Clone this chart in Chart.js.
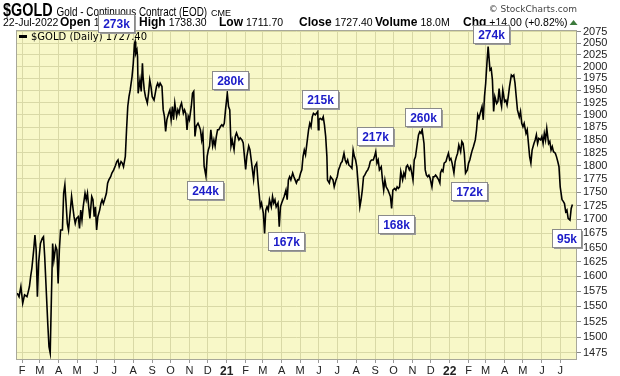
<!DOCTYPE html>
<html>
<head>
<meta charset="utf-8">
<script src="https://cdn.jsdelivr.net/npm/chart.js@4.4.0/dist/chart.umd.min.js"></script>
<style>
  html, body { margin: 0; padding: 0; background: #fff; }
  #goldChart { display: block; }
</style>
</head>
<body>
<canvas id="goldChart" width="620" height="376"></canvas>
<script>
// $GOLD daily closes, x = days counted from 1 Jan 2020
const days = [
  23, 26, 29, 32, 35, 39, 41, 43, 45, 47, 50, 52, 54, 56, 58, 61, 64, 66, 68, 70,
  73, 75, 77, 79, 81, 83, 86, 88, 90, 92, 94, 97, 99, 101, 103, 105, 107, 110, 112, 114,
  116, 118, 120, 123, 125, 127, 129, 131, 134, 136, 138, 140, 142, 145, 147, 149, 151, 153, 155, 158,
  160, 162, 164, 166, 169, 171, 173, 176, 178, 181, 184, 186, 188, 190, 193, 195, 197,
  200, 202, 204, 206, 208, 211, 213, 215, 216, 217, 219, 220, 221, 224, 226, 228, 229, 231, 233, 236,
  238, 240, 242, 244, 247, 249, 251, 253, 255, 257, 260, 262, 264, 266, 268, 271, 273, 275, 277, 279,
  281, 284, 286, 288, 290, 292, 295, 297, 299, 301, 303, 305, 308, 310, 312, 314, 316, 319, 321, 323,
  325, 327, 329, 332, 334, 336, 338, 340, 343, 345, 347, 349, 351, 353, 356, 358, 360, 362, 364, 367,
  369, 371, 373, 375, 378, 380, 382, 384, 386, 388, 391, 393, 395, 397, 399, 402, 404, 406, 408, 410,
  412, 415, 417, 419, 421, 423, 426, 428, 430, 432, 434, 436, 439, 441, 443, 445, 447, 450, 452, 454,
  456, 458, 460, 463, 465, 467, 469, 471, 474, 476, 478, 480, 482, 484, 487, 489, 491, 493, 495, 498,
  500, 502, 504, 506, 508, 511, 513, 515, 516, 517, 519, 522, 524, 526, 528, 530, 531, 534, 536, 538,
  540, 542, 545, 547, 549, 551, 553, 555, 558, 560, 562, 564, 566, 569, 571, 573, 575, 577, 579, 582,
  584, 586, 588, 590, 592, 595, 597, 599, 601, 603, 606, 608, 610, 612, 614, 616, 619, 621, 623, 625,
  627, 630, 632, 634, 636, 638, 641, 643, 645, 647, 649, 651, 654, 656, 658, 660, 662, 665, 667, 669,
  671, 673,
  675, 678, 680, 682, 684, 686, 689, 691, 693, 695, 697, 699, 702, 704, 706, 708, 710, 713, 715, 716,
  718, 720, 722, 725, 727, 729, 731, 733, 735, 738, 740, 742, 744, 746, 749, 751, 753, 755, 757, 760,
  762, 764, 766, 768, 770, 773, 775, 777, 779, 781, 784, 786, 788, 790, 792, 794, 797, 799, 801, 803,
  805, 808, 810, 812, 814, 816, 818, 821, 823, 825, 827, 829, 832, 834, 836, 838, 840, 842, 845, 847,
  849, 851, 853, 856, 858, 860, 862, 864, 866, 869, 871, 873, 875, 877, 880, 882, 884, 886, 888, 890,
  893, 895, 897, 899, 901, 904, 906, 908, 910, 912, 915, 917, 919, 921, 923, 925, 928, 930, 932
];
const closes = [
  1572, 1566, 1583, 1555, 1569, 1566, 1574, 1583, 1600, 1614, 1646, 1672, 1646, 1566, 1623, 1657, 1666, 1669, 1634, 1588,
  1522, 1485, 1475, 1566, 1657, 1628, 1652, 1646, 1588, 1646, 1681, 1681, 1748, 1764, 1729, 1693, 1681, 1717, 1742, 1723,
  1705, 1693, 1702, 1705, 1684, 1717, 1699, 1723, 1748, 1736, 1748, 1723, 1702, 1742, 1736, 1705, 1723, 1681, 1705, 1717,
  1729, 1736, 1729, 1736, 1748, 1767, 1773, 1779, 1786, 1792, 1801, 1808, 1811, 1798, 1808, 1805, 1798,
  1818, 1870, 1917, 1937, 1951, 1979, 2007, 2050, 2054, 2028, 2036, 2021, 1944, 1972, 1948, 2007, 1979, 1951, 1937, 1924,
  1944, 1972, 1958, 1937, 1930, 1944, 1958, 1965, 1958, 1965, 1958, 1910, 1897, 1867, 1890, 1903, 1910, 1890, 1917, 1890,
  1924, 1897, 1910, 1903, 1917, 1924, 1903, 1910, 1903, 1870, 1897, 1890, 1917, 1944, 1948, 1857, 1877, 1883, 1877, 1870,
  1850, 1864, 1799, 1780, 1818, 1831, 1838, 1870, 1838, 1850, 1838, 1857, 1870, 1870, 1877, 1880, 1877, 1883, 1910, 1944,
  1917, 1910, 1838, 1850, 1831, 1857, 1864, 1857, 1850, 1854, 1850, 1844, 1818, 1793, 1818, 1838, 1831, 1812, 1793, 1774,
  1798, 1805, 1773, 1748, 1723, 1730, 1711, 1675, 1717, 1723, 1717, 1736, 1723, 1742, 1730, 1736, 1723, 1730, 1687, 1723,
  1730, 1736, 1742, 1754, 1736, 1773, 1779, 1773, 1786, 1779, 1773, 1767, 1773, 1773, 1786, 1792, 1818, 1830, 1821, 1850,
  1870, 1883, 1876, 1896, 1903, 1900, 1903, 1907, 1870, 1890, 1893, 1890, 1896, 1880, 1857, 1818, 1773, 1767, 1779, 1776,
  1773, 1760, 1773, 1779, 1792, 1798, 1805, 1808, 1824, 1811, 1805, 1811, 1801, 1798, 1795, 1830, 1818, 1811, 1798, 1754,
  1723, 1736, 1754, 1779, 1782, 1789, 1792, 1798, 1808, 1811, 1811, 1818, 1827, 1805, 1811, 1792, 1798, 1773, 1754, 1773,
  1760, 1754, 1748, 1742, 1720, 1754, 1757, 1754, 1760, 1757, 1760, 1789, 1773, 1786, 1779, 1798, 1801, 1792, 1798, 1786,
  1773, 1811,
  1817, 1843, 1860, 1866, 1863, 1870, 1843, 1792, 1782, 1779, 1782, 1776, 1760, 1779, 1779, 1782, 1779, 1773, 1767, 1786,
  1792, 1789, 1805, 1808, 1817, 1824, 1811, 1814, 1805, 1786, 1808, 1817, 1824, 1840, 1827, 1847, 1843, 1824, 1786, 1792,
  1805, 1811, 1821, 1830, 1837, 1850, 1870, 1900, 1893, 1903, 1917, 1890, 1937, 1965, 2007, 2043, 1993, 1996, 1972, 1907,
  1937, 1923, 1927, 1954, 1930, 1917, 1951, 1927, 1930, 1920, 1937, 1958, 1982, 1979, 1982, 1965, 1937, 1910, 1896, 1907,
  1883, 1876, 1883, 1863, 1870, 1843, 1817, 1805, 1830, 1843, 1850, 1860, 1843, 1853, 1850, 1857, 1843, 1863, 1850, 1873,
  1843, 1847, 1830, 1837, 1827, 1824, 1817, 1808, 1798, 1760, 1736, 1733, 1729, 1714, 1717, 1702, 1699, 1720, 1727.4
];

// month gridlines and their labels
const tickDates = [
  '2020-02-01', '2020-03-01', '2020-04-01', '2020-05-01', '2020-06-01', '2020-07-01', '2020-08-01',
  '2020-09-01', '2020-10-01', '2020-11-01', '2020-12-01', '2021-01-01', '2021-02-01', '2021-03-01',
  '2021-04-01', '2021-05-01', '2021-06-01', '2021-07-01', '2021-08-01', '2021-09-01', '2021-10-01',
  '2021-11-01', '2021-12-01', '2022-01-01', '2022-02-01', '2022-03-01', '2022-04-01', '2022-05-01',
  '2022-06-01', '2022-07-01'
];
const tickLabels = [
  'F', 'M', 'A', 'M', 'J', 'J', 'A', 'S', 'O', 'N', 'D', '21', 'F', 'M', 'A',
  'M', 'J', 'J', 'A', 'S', 'O', 'N', 'D', '22', 'F', 'M', 'A', 'M', 'J', 'J'
];
const yTicks = [
  1475, 1500, 1525, 1550, 1575, 1600, 1625, 1650, 1675, 1700, 1725, 1750, 1775,
  1800, 1825, 1850, 1875, 1900, 1925, 1950, 1975, 2000, 2025, 2050, 2075
];

// volume call-outs, anchored at (day, price) of the box centre
const volLabels = ['273k', '280k', '244k', '215k', '167k', '217k', '168k', '260k', '172k', '274k', '95k'];
const volDays   = [184, 372, 331, 518, 463, 608, 643, 688, 763, 798, 922];
const volPrices = [2094, 1971, 1755, 1933, 1661, 1858, 1691, 1895, 1753, 2069.5, 1666];

// quote line: [label, value, left x]
const quoteRow = [
  ['', '22-Jul-2022', 3],
  ['Open', '1', 60],
  ['High', '1738.30', 139],
  ['Low', '1711.70', 219],
  ['Close', '1727.40', 299],
  ['Volume', '18.0M', 375],
  ['Chg', '+14.00 (+0.82%)', 463]
];

const plotBg = '#f8f8c8';
const gridCol = '#d9d9a6';

function dayOf(s) {
  return (Date.parse(s) - Date.parse('2020-01-01')) / 86400000;
}

// draws a run of text pieces left to right; sx squeezes a piece horizontally
function runText(ctx, x, y, parts) {
  parts.forEach(p => {
    ctx.font = p.font;
    ctx.fillStyle = p.color || '#000';
    const sx = p.sx || 1;
    ctx.save();
    ctx.translate(x, y);
    ctx.scale(sx, 1);
    ctx.fillText(p.text, 0, 0);
    ctx.restore();
    x += ctx.measureText(p.text).width * sx + (p.gap || 0);
  });
  return x;
}

const chartDecor = {
  id: 'chartDecor',
  beforeDraw(chart) {
    const ctx = chart.ctx, a = chart.chartArea;
    ctx.save();
    ctx.fillStyle = '#fff';
    ctx.fillRect(0, 0, chart.width, chart.height);
    ctx.fillStyle = plotBg;
    ctx.fillRect(a.left, a.top, a.right - a.left, a.bottom - a.top);
    ctx.restore();
  },
  afterDraw(chart) {
    const ctx = chart.ctx, a = chart.chartArea;
    ctx.save();
    // plot frame
    ctx.strokeStyle = '#a8a89a';
    ctx.lineWidth = 1;
    ctx.strokeRect(a.left + 0.5, a.top + 0.5, a.right - a.left - 1, a.bottom - a.top - 1);

    // header
    ctx.textBaseline = 'alphabetic';
    ctx.textAlign = 'left';
    const sans = "'Liberation Sans', Arial, sans-serif";
    runText(ctx, 3, 16, [
      { text: '$GOLD', font: 'bold 18px ' + sans, sx: 0.8, gap: 4 },
      { text: 'Gold - Continuous Contract (EOD)', font: '13px ' + sans, sx: 0.76, gap: 4 },
      { text: 'CME', font: '9px ' + sans }
    ]);
    ctx.font = '9px "DejaVu Sans", sans-serif';
    ctx.fillStyle = '#444';
    ctx.textAlign = 'right';
    ctx.fillText('\u00a9 StockCharts.com', 577, 12);
    ctx.textAlign = 'left';

    let endX = 0;
    quoteRow.forEach(([lab, val, x]) => {
      const parts = [];
      if (lab) parts.push({ text: lab, font: 'bold 12px ' + sans, gap: 3 });
      parts.push({ text: val, font: '10.5px ' + sans });
      endX = runText(ctx, x, 26, parts);
    });
    ctx.fillStyle = '#3c7a3c';
    ctx.beginPath();
    ctx.moveTo(endX + 2, 25);
    ctx.lineTo(endX + 10, 25);
    ctx.lineTo(endX + 6, 20);
    ctx.closePath();
    ctx.fill();

    // legend inside plot
    ctx.fillStyle = '#000';
    ctx.fillRect(a.left + 3, a.top + 5, 8, 3);
    ctx.font = '10px "DejaVu Sans", sans-serif';
    ctx.fillText('$GOLD (Daily) 1727.40', a.left + 15, a.top + 10);

    // volume call-outs
    const xs = chart.scales.x, ys = chart.scales.y;
    ctx.font = 'bold 12px ' + sans;
    volLabels.forEach((lab, i) => {
      const cx = xs.getPixelForValue(volDays[i]);
      const cy = ys.getPixelForValue(volPrices[i]);
      const w = Math.round(ctx.measureText(lab).width + 9);
      const h = 18;
      const bx = Math.round(cx - w / 2) + 0.5, by = Math.round(cy - h / 2) + 0.5;
      ctx.fillStyle = '#9a9a9a';
      ctx.fillRect(bx + 1.5, by + 1.5, w, h);
      ctx.fillStyle = '#fff';
      ctx.fillRect(bx, by, w, h);
      ctx.strokeStyle = '#8a8a8a';
      ctx.strokeRect(bx, by, w, h);
      ctx.fillStyle = '#1c1cc8';
      ctx.textAlign = 'center';
      ctx.textBaseline = 'middle';
      ctx.fillText(lab, bx + w / 2, by + h / 2 + 1);
    });
    ctx.restore();
  }
};

const goldChart = new Chart(document.getElementById('goldChart'), {
  type: 'line',
  data: {
    datasets: [{
      label: '$GOLD (Daily)',
      data: days.map((d, i) => ({ x: d, y: closes[i] })),
      borderColor: '#000',
      borderWidth: 1.6,
      pointRadius: 0,
      tension: 0,
      fill: false
    }]
  },
  options: {
    responsive: false,
    animation: false,
    devicePixelRatio: 1,
    layout: { padding: { left: 16, top: 30, right: 0, bottom: 0 } },
    plugins: {
      legend: { display: false },
      tooltip: { enabled: false }
    },
    scales: {
      x: {
        type: 'linear',
        min: 21,
        max: 939.5,
        afterFit: s => { s.height = 16; },
        afterBuildTicks: s => { s.ticks = tickDates.map(t => ({ value: dayOf(t) })); },
        ticks: {
          autoSkip: false,
          maxRotation: 0,
          padding: 1,
          color: '#222',
          font: c => ({
            family: "'Liberation Sans', Arial, sans-serif",
            size: /^\d/.test(tickLabels[c.index]) ? 12 : 11,
            weight: /^\d/.test(tickLabels[c.index]) ? 'bold' : 'normal'
          }),
          callback: (v, i) => tickLabels[i]
        },
        grid: { color: gridCol, tickLength: 3, tickColor: '#999' },
        border: { display: false }
      },
      y: {
        type: 'logarithmic',
        position: 'right',
        min: 1464,
        max: 2079.4,
        afterFit: s => { s.width = 43; },
        afterBuildTicks: s => { s.ticks = yTicks.map(v => ({ value: v })); },
        ticks: {
          autoSkip: false,
          padding: 2,
          color: '#222',
          font: { family: "'Liberation Sans', Arial, sans-serif", size: 11 },
          callback: v => String(v)
        },
        grid: { color: gridCol, tickLength: 4, tickColor: '#888' },
        border: { display: false }
      }
    }
  },
  plugins: [chartDecor]
});
</script>
</body>
</html>
